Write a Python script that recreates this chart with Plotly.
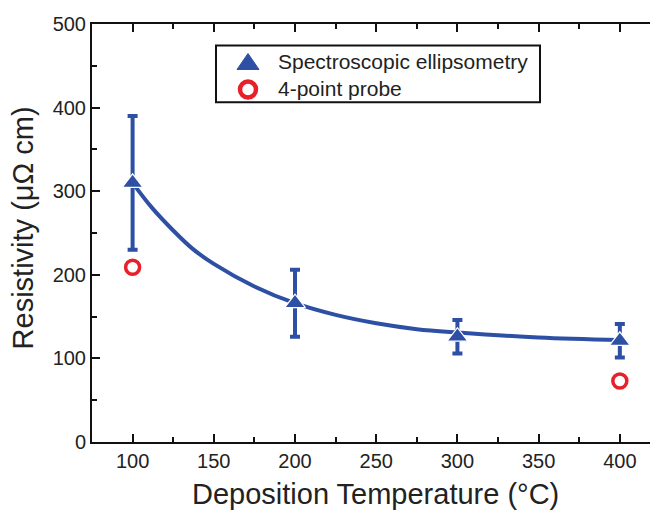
import plotly.graph_objects as go

# ---- data ----
temps = [100, 200, 300, 400]
se_resistivity = [310, 166, 126, 121]
se_error = [80, 40, 20, 20]

probe_temps = [100, 400]
probe_resistivity = [209, 73]

fit_temps = [100, 112, 125, 137, 150, 175, 200, 225, 250, 275, 300, 350, 400]
fit_resistivity = [310, 280, 253, 231, 213, 186, 166, 152, 142, 135, 131, 125, 122]

x_ticks = [100, 150, 200, 250, 300, 350, 400]
y_ticks = [0, 100, 200, 300, 400, 500]

legend_labels = ["Spectroscopic ellipsometry", "4-point probe"]

BLUE = "#2e50a4"
RED = "#e8202a"
FONT = "Liberation Sans, Arial, Helvetica, sans-serif"

# page has an 8 px body margin; plot area in page pixels:
PX_L, PX_R, PX_T, PX_B = 92, 658, 23.5, 441.7
PW, PH = PX_R - PX_L, PX_B - PX_T


def px(xp):
    return (xp - PX_L) / PW


def py(yp):
    return (PX_B - yp) / PH


fig = go.Figure()

fig.add_trace(go.Scatter(
    x=fit_temps, y=fit_resistivity, mode="lines",
    line=dict(color=BLUE, width=4, shape="spline", smoothing=1.0),
    showlegend=False, hoverinfo="skip"))

fig.add_trace(go.Scatter(
    x=temps, y=se_resistivity, mode="markers",
    name=legend_labels[0], showlegend=False,
    marker=dict(symbol="triangle-up", size=18, color=BLUE,
                line=dict(color="white", width=1.2)),
    error_y=dict(type="data", array=se_error, visible=True,
                 color=BLUE, thickness=4, width=5)))

fig.add_trace(go.Scatter(
    x=probe_temps, y=probe_resistivity, mode="markers",
    name=legend_labels[1], showlegend=False,
    marker=dict(symbol="circle-open", size=14, color=RED,
                line=dict(color=RED, width=3.5))))

axis_common = dict(
    showgrid=False, zeroline=False, showline=True, linewidth=2, linecolor="#111",
    ticks="inside", ticklen=8, tickwidth=2, tickcolor="#111", automargin=False,
    tickfont=dict(family=FONT, size=20, color="#222"),
)

fig.update_xaxes(range=[75, 423.5], tickvals=x_ticks, mirror="ticks",
                 minor=dict(ticks="inside", ticklen=5, tickwidth=2, tickcolor="#111",
                            dtick=25, tick0=0),
                 **axis_common)
fig.update_yaxes(range=[0, 500], tickvals=y_ticks, mirror=False,
                 minor=dict(ticks="inside", ticklen=5, tickwidth=2, tickcolor="#111",
                            dtick=50, tick0=0),
                 **axis_common)

fig.add_annotation(text="Deposition Temperature (°C)", xref="paper", yref="paper",
                   x=px(375.5), y=py(494), xanchor="center", yanchor="middle",
                   showarrow=False, font=dict(family=FONT, size=29, color="#222"))
fig.add_annotation(text="Resistivity (μΩ cm)", xref="paper", yref="paper",
                   x=px(23), y=py(228), xanchor="center", yanchor="middle",
                   textangle=-90,
                   showarrow=False, font=dict(family=FONT, size=29, color="#222"))

# ---- legend box ----
fig.add_shape(type="rect", xref="paper", yref="paper",
              x0=px(216), x1=px(540), y0=py(45), y1=py(101.7),
              line=dict(color="#111", width=2), fillcolor="white", layer="above")
# triangle symbol
tx, ty = 248, 62
fig.add_shape(type="path", xref="paper", yref="paper",
              path=f"M {px(tx - 11)} {py(ty + 7)} L {px(tx + 11)} {py(ty + 7)} L {px(tx)} {py(ty - 9)} Z",
              line=dict(color=BLUE, width=1), fillcolor=BLUE, layer="above")
# circle symbol
cx, cy, r = 248, 89, 8
fig.add_shape(type="circle", xref="paper", yref="paper",
              x0=px(cx - r), x1=px(cx + r), y0=py(cy + r), y1=py(cy - r),
              line=dict(color=RED, width=4.5), layer="above")
for label, yy in zip(legend_labels, [61, 88]):
    fig.add_annotation(text=label, xref="paper", yref="paper",
                       x=px(276), y=py(yy), xanchor="left", yanchor="middle",
                       showarrow=False, font=dict(family=FONT, size=21, color="#222"))

fig.update_layout(
    width=650, height=505,
    margin=dict(l=PX_L - 8, r=0, t=PX_T - 8, b=505 - (PX_B - 8), autoexpand=False),
    paper_bgcolor="white", plot_bgcolor="white",
    font=dict(family=FONT, color="#222"),
    showlegend=False,
)

fig.write_html("out.html")
